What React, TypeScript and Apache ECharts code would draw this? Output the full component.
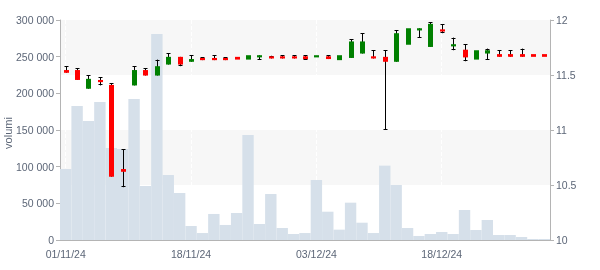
import React, { useEffect, useRef } from 'react';
import * as echarts from 'echarts';

const dates = [
  '01/11/24', '04/11/24', '05/11/24', '06/11/24', '07/11/24', '08/11/24', '11/11/24', '12/11/24', '13/11/24', '14/11/24', '15/11/24',
  '18/11/24', '19/11/24', '20/11/24', '21/11/24', '22/11/24', '25/11/24', '26/11/24', '27/11/24', '28/11/24', '29/11/24', '02/12/24',
  '03/12/24', '04/12/24', '05/12/24', '06/12/24', '09/12/24', '10/12/24', '11/12/24', '12/12/24', '13/12/24', '16/12/24', '17/12/24',
  '18/12/24', '19/12/24', '20/12/24', '23/12/24', '24/12/24', '27/12/24', '30/12/24', '31/12/24', '02/01/25', '03/01/25',
];

const volumes = [
  96800, 182700, 162300, 188200, 125500, 124100, 192300, 73600, 280900, 88600, 64100,
  19100, 9500, 35500, 20500, 36800, 143200, 21800, 62700, 16400, 8200, 9500,
  81800, 38600, 14100, 50900, 23600, 9500, 101400, 75000, 16400, 5500, 8200,
  10900, 8200, 40900, 13600, 27300, 6800, 6800, 4100, 1400, 1400,
];

const opens = [
  11.545, 11.545, 11.375, 11.455, 11.41, 10.645, 11.405, 11.545, 11.495, 11.595, 11.665,
  11.62, 11.655, 11.655, 11.655, 11.665, 11.64, 11.66, 11.67, 11.67, 11.67, 11.67,
  11.66, 11.67, 11.635, 11.655, 11.695, 11.67, 11.665, 11.62, 11.775, 11.905, 11.755,
  11.915, 11.76, 11.73, 11.64, 11.695, 11.69, 11.69, 11.69, 11.69, 11.69,
];
const closes = [
  11.52, 11.455, 11.465, 11.435, 10.575, 10.62, 11.545, 11.495, 11.58, 11.665, 11.595,
  11.645, 11.635, 11.635, 11.635, 11.64, 11.68, 11.68, 11.65, 11.65, 11.65, 11.645,
  11.68, 11.645, 11.68, 11.805, 11.805, 11.65, 11.62, 11.88, 11.925, 11.925, 11.965,
  11.895, 11.78, 11.66, 11.725, 11.725, 11.665, 11.665, 11.665, 11.665, 11.665,
];
const lows = [
  11.52, 11.455, 11.375, 11.405, 10.575, 10.48, 11.405, 11.495, 11.495, 11.595, 11.58,
  11.62, 11.635, 11.635, 11.635, 11.64, 11.64, 11.64, 11.65, 11.65, 11.65, 11.64,
  11.66, 11.645, 11.635, 11.655, 11.695, 11.65, 11.0, 11.62, 11.775, 11.84, 11.755,
  11.88, 11.725, 11.625, 11.64, 11.64, 11.665, 11.665, 11.665, 11.665, 11.665,
];
const highs = [
  11.58, 11.56, 11.5, 11.48, 11.425, 10.825, 11.58, 11.56, 11.64, 11.7, 11.665,
  11.68, 11.66, 11.68, 11.66, 11.665, 11.68, 11.68, 11.675, 11.68, 11.68, 11.68,
  11.68, 11.68, 11.68, 11.825, 11.88, 11.725, 11.725, 11.905, 11.925, 11.925, 11.98,
  11.96, 11.84, 11.78, 11.725, 11.74, 11.725, 11.725, 11.74, 11.69, 11.69,
];

const UP = '#008000';
const DOWN = '#ff0000';
const LABEL = '#5c6677';
const AXIS = '#b4b4b4';
const FONT = 'Liberation Sans, Arial, sans-serif';

function fmtThousands(v: number): string {
  return String(v).replace(/\B(?=(\d{3})+(?!\d))/g, ' ');
}

export default function App() {
  const ref = useRef<HTMLDivElement>(null);

  useEffect(() => {
    if (!ref.current) return;
    const chart = echarts.init(ref.current, undefined, { renderer: 'svg' });
    const candleData = dates.map((_, i) => [i, opens[i], closes[i], lows[i], highs[i]]);

    const option: any = {
      animation: false,
      textStyle: { fontFamily: FONT },
      grid: { left: 60, right: 50, top: 20, bottom: 30 },
      graphic: [
        {
          type: 'text',
          x: 8,
          y: 133,
          rotation: Math.PI / 2,
          style: {
            text: 'volumi',
            fill: LABEL,
            font: `11px ${FONT}`,
            align: 'center',
            verticalAlign: 'middle',
          },
        },
      ],
      xAxis: [
        {
          type: 'category',
          data: dates,
          position: 'bottom',
          boundaryGap: true,
          axisLine: { lineStyle: { color: AXIS } },
          axisTick: { interval: 10, alignWithLabel: true, length: 5, lineStyle: { color: AXIS } },
          axisLabel: { interval: 10, color: LABEL, fontSize: 10.5, margin: 8, fontFamily: FONT },
          splitLine: { show: true, interval: 10, alignWithLabel: true, lineStyle: { color: '#ffffff', type: 'dashed' } },
        },
        {
          type: 'category',
          data: dates,
          position: 'bottom',
          boundaryGap: true,
          axisLine: { show: false },
          axisTick: { interval: 0, alignWithLabel: true, length: 3, lineStyle: { color: AXIS } },
          axisLabel: { show: false },
          splitLine: { show: false },
        },
      ],
      yAxis: [
        {
          type: 'value',
          position: 'left',
          min: 0,
          max: 300000,
          interval: 50000,
          axisLine: { show: true, lineStyle: { color: AXIS } },
          axisTick: { show: true, length: 4, lineStyle: { color: AXIS } },
          axisLabel: { color: LABEL, fontSize: 10.5, margin: 6, fontFamily: FONT, formatter: (v: number) => fmtThousands(v) },
          splitLine: { show: true, lineStyle: { color: '#ffffff', type: 'dashed' } },
          splitArea: { show: false },
        },
        {
          type: 'value',
          position: 'right',
          min: 10,
          max: 12,
          interval: 0.5,
          axisLine: { show: true, lineStyle: { color: AXIS } },
          axisTick: { show: true, length: 4, lineStyle: { color: AXIS } },
          axisLabel: { color: LABEL, fontSize: 10.5, margin: 6, fontFamily: FONT },
          splitLine: { show: false },
          splitArea: { show: true, areaStyle: { color: ['rgba(255,255,255,0)', '#f7f7f7'] } },
        },
      ],
      series: [
        {
          type: 'bar',
          name: 'volumi',
          xAxisIndex: 0,
          yAxisIndex: 0,
          data: volumes,
          barCategoryGap: '0%',
          itemStyle: { color: '#d6e0ea' },
          z: 2,
        },
        {
          type: 'custom',
          name: 'prezzo',
          xAxisIndex: 0,
          yAxisIndex: 1,
          data: candleData,
          encode: { x: 0, y: [1, 2, 3, 4] },
          z: 5,
          renderItem: (params: any, api: any) => {
            const i = api.value(0);
            const o = api.value(1);
            const c = api.value(2);
            const l = api.value(3);
            const h = api.value(4);
            const pO = api.coord([i, o]);
            const pC = api.coord([i, c]);
            const pL = api.coord([i, l]);
            const pH = api.coord([i, h]);
            const lx = Math.round(pO[0]) + 0.5;
            const top = Math.min(pO[1], pC[1]);
            const bot = Math.max(pO[1], pC[1]);
            const children: any[] = [];
            const bodyTop = Math.max(o, c);
            const bodyBot = Math.min(o, c);
            if (h > bodyTop || l < bodyBot) {
              children.push({
                type: 'line',
                shape: { x1: lx, y1: pH[1], x2: lx, y2: pL[1] },
                style: { stroke: '#000', lineWidth: 1 },
              });
            }
            if (h > bodyTop) {
              const y = Math.round(pH[1]) + 0.5;
              children.push({
                type: 'line',
                shape: { x1: lx - 2, y1: y, x2: lx + 2, y2: y },
                style: { stroke: '#000', lineWidth: 1 },
              });
            }
            if (l < bodyBot) {
              const y = Math.round(pL[1]) - 0.5;
              children.push({
                type: 'line',
                shape: { x1: lx - 2, y1: y, x2: lx + 2, y2: y },
                style: { stroke: '#000', lineWidth: 1 },
              });
            }
            children.push({
              type: 'rect',
              shape: { x: lx - 2.5, y: top, width: 5, height: Math.max(bot - top, 1) },
              style: { fill: c >= o ? UP : DOWN },
            });
            return { type: 'group', children };
          },
        },
      ],
    };
    chart.setOption(option);
    return () => chart.dispose();
  }, []);

  return <div ref={ref} style={{ position: 'fixed', left: 0, top: 0, width: 600, height: 270 }} />;
}
